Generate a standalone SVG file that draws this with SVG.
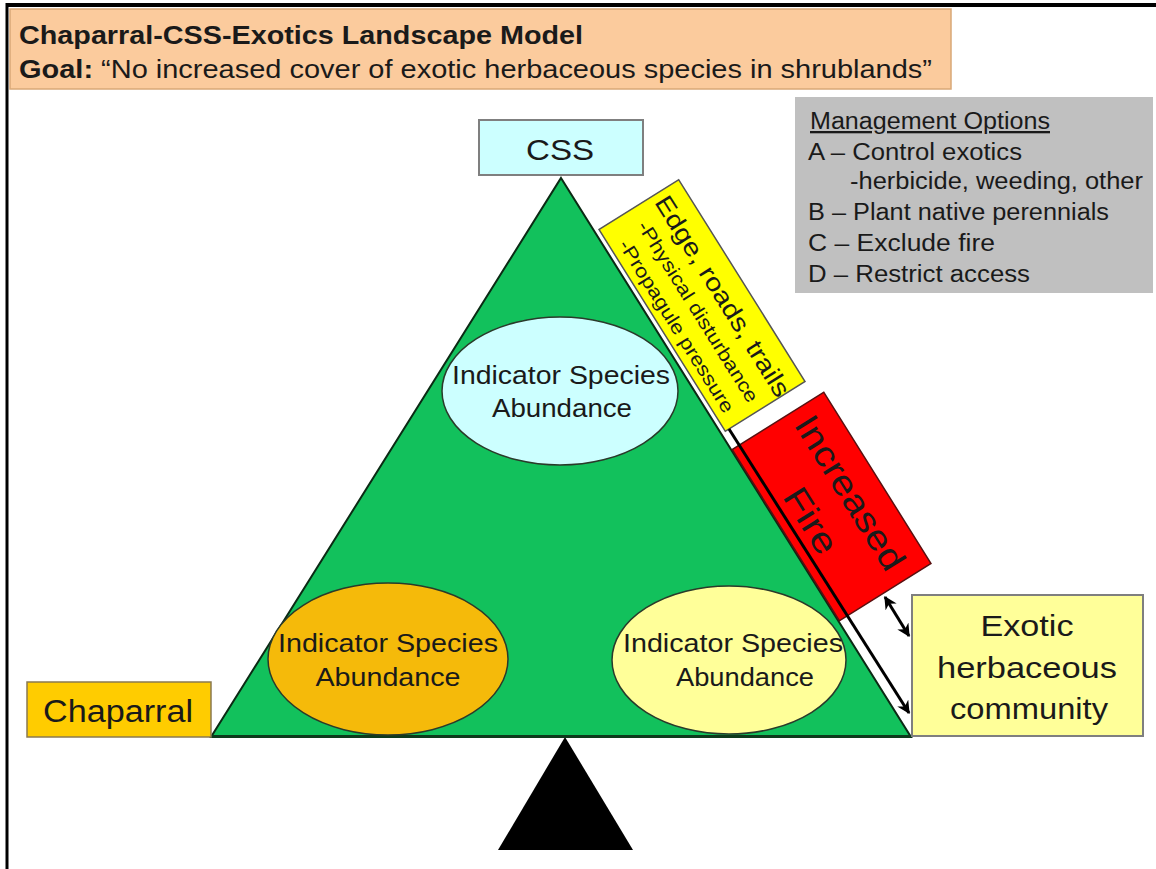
<svg xmlns="http://www.w3.org/2000/svg" width="1156" height="869" viewBox="0 0 1156 869">
<defs>
<style>
text{font-family:"Liberation Sans",Arial,Helvetica,sans-serif;fill:#1a1a1a;}
.box{stroke:#7f7f7f;stroke-width:2;}
.ell{stroke:#2a3a2a;stroke-width:1.5;}
.mid{text-anchor:middle;}
.mg{font-size:23px;}
.ind{font-size:25px;text-anchor:middle;}
.conn{stroke:#000;stroke-width:3;fill:none;}
</style>
<marker id="ah" viewBox="0 0 10 10" refX="9" refY="5" markerWidth="13" markerHeight="13" markerUnits="userSpaceOnUse" orient="auto-start-reverse">
<path d="M0,0 L10,5 L0,10 L3,5 z" fill="#000"/>
</marker>
</defs>
<rect x="0" y="0" width="1156" height="869" fill="#ffffff"/>
<g id="frame">
<line x1="7" y1="5" x2="1156" y2="5" stroke="#000" stroke-width="4"/>
<line x1="7" y1="3" x2="7" y2="869" stroke="#000" stroke-width="3"/>
</g>
<g id="title">
<rect x="10" y="9" width="941" height="80" fill="#FBCB9D" stroke="#d9a877" stroke-width="1.5"/>
<text x="19" y="44" font-size="26" font-weight="bold" textLength="564" lengthAdjust="spacingAndGlyphs">Chaparral-CSS-Exotics Landscape Model</text>
<text x="19" y="78" font-size="26" textLength="913" lengthAdjust="spacingAndGlyphs"><tspan font-weight="bold">Goal:</tspan> “No increased cover of exotic herbaceous species in shrublands”</text>
</g>
<g id="management">
<rect x="795" y="97" width="358" height="196" fill="#C0C0C0"/>
<text class="mg" x="810" y="129" text-decoration="underline" textLength="240" lengthAdjust="spacingAndGlyphs">Management Options</text>
<text class="mg" x="808" y="160" textLength="214" lengthAdjust="spacingAndGlyphs">A – Control exotics</text>
<text class="mg" x="850" y="189" textLength="293" lengthAdjust="spacingAndGlyphs">-herbicide, weeding, other</text>
<text class="mg" x="808" y="220" textLength="301" lengthAdjust="spacingAndGlyphs">B – Plant native perennials</text>
<text class="mg" x="808" y="251" textLength="187" lengthAdjust="spacingAndGlyphs">C – Exclude fire</text>
<text class="mg" x="808" y="282" textLength="222" lengthAdjust="spacingAndGlyphs">D – Restrict access</text>
</g>
<g id="fulcrum">
<polygon points="565,737 498,850 633,850" fill="#000"/>
</g>
<g id="triangle">
<polygon points="561,178 911,737 211,737" fill="#12C15C" stroke="#0b2a14" stroke-width="2"/>
<line x1="211" y1="736.5" x2="911" y2="736.5" stroke="#0d3a1c" stroke-width="3"/>
</g>
<g id="css">
<rect class="box" x="479" y="120" width="164" height="55" fill="#CCFFFF"/>
<text class="mid" x="560" y="160" font-size="30" textLength="68" lengthAdjust="spacingAndGlyphs">CSS</text>
</g>
<g id="chaparral">
<rect x="27" y="682" width="184" height="55" fill="#FFCC00" stroke="#8a7a50" stroke-width="1.5"/>
<text class="mid" x="118" y="722" font-size="31" textLength="150" lengthAdjust="spacingAndGlyphs">Chaparral</text>
</g>
<g id="ind-css">
<ellipse class="ell" cx="560" cy="391" rx="118" ry="74" fill="#CCFFFF"/>
<text class="ind" x="561" y="384" textLength="218" lengthAdjust="spacingAndGlyphs">Indicator Species</text>
<text class="ind" x="562" y="417" textLength="140" lengthAdjust="spacingAndGlyphs">Abundance</text>
</g>
<g id="ind-chaparral">
<ellipse class="ell" cx="388" cy="659" rx="120" ry="76" fill="#F5BA0A"/>
<text class="ind" x="388" y="652" textLength="220" lengthAdjust="spacingAndGlyphs">Indicator Species</text>
<text class="ind" x="388" y="686" textLength="145" lengthAdjust="spacingAndGlyphs">Abundance</text>
</g>
<g id="ind-exotics">
<ellipse class="ell" cx="729" cy="660" rx="117" ry="74" fill="#FFFF99"/>
<text class="ind" x="733" y="652" textLength="220" lengthAdjust="spacingAndGlyphs">Indicator Species</text>
<text class="ind" x="745" y="686" textLength="138" lengthAdjust="spacingAndGlyphs">Abundance</text>
</g>
<g id="edge" transform="translate(702,305.5) rotate(57.95)">
<rect x="-119" y="-47" width="238" height="94" fill="#FFFF00" stroke="#555" stroke-width="1.5"/>
<text class="mid" x="3" y="-14" font-size="25" textLength="232" lengthAdjust="spacingAndGlyphs">Edge, roads, trails</text>
<text class="mid" x="3" y="13" font-size="19" textLength="210" lengthAdjust="spacingAndGlyphs">-Physical disturbance</text>
<text class="mid" x="4" y="39" font-size="19" textLength="200" lengthAdjust="spacingAndGlyphs">-Propagule pressure</text>
</g>
<g id="fire" transform="translate(831.6,506.5) rotate(57.95)">
<rect x="-101" y="-54" width="202" height="108" fill="#FF0000" stroke="#5a1010" stroke-width="1.5"/>
<text class="mid" x="-2" y="-11" font-size="35" textLength="176" lengthAdjust="spacingAndGlyphs">Increased</text>
<text class="mid" x="1" y="37" font-size="35" textLength="72" lengthAdjust="spacingAndGlyphs">Fire</text>
</g>
<g id="exotic">
<rect class="box" x="912" y="595" width="231" height="141" fill="#FFFF99"/>
<text class="mid" x="1027" y="636" font-size="30" textLength="93" lengthAdjust="spacingAndGlyphs">Exotic</text>
<text class="mid" x="1027" y="678" font-size="30" textLength="180" lengthAdjust="spacingAndGlyphs">herbaceous</text>
<text class="mid" x="1029" y="719" font-size="30" textLength="158" lengthAdjust="spacingAndGlyphs">community</text>
</g>
<g id="connectors">
<line class="conn" x1="729" y1="429" x2="909" y2="713" marker-end="url(#ah)"/>
<line class="conn" x1="885" y1="597" x2="909" y2="636" marker-start="url(#ah)" marker-end="url(#ah)"/>
</g>
</svg>
